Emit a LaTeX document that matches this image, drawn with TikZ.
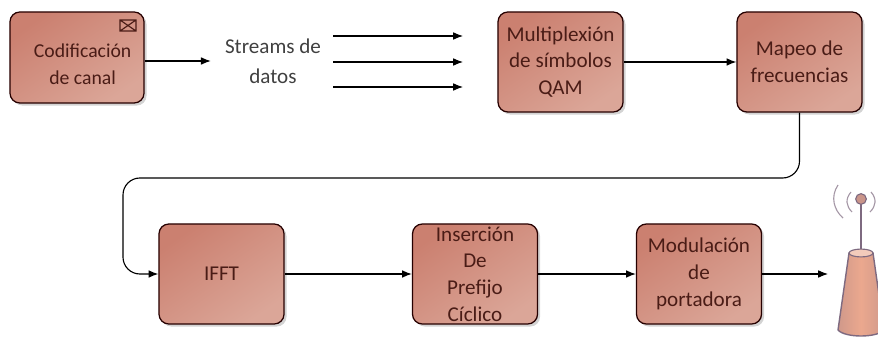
\documentclass[tikz,border=0pt]{standalone}
\usepackage{fontspec}
\setmainfont{Carlito}
\usetikzlibrary{shadows,arrows.meta}
\definecolor{bloqueA}{HTML}{CB8070}
\definecolor{bloqueB}{HTML}{DBA698}
\definecolor{textoB}{HTML}{4A1C16}
\definecolor{antenaA}{HTML}{EBA88E}
\definecolor{antenaB}{HTML}{7E6A80}
\tikzset{
    bloque/.style={draw=black!85!red, line width=0.9pt, rounded corners=7pt, left color=bloqueA, right color=bloqueB, shading angle=35, drop shadow={shadow xshift=1.8pt, shadow yshift=-1.8pt, opacity=0.35}, minimum width=3.125cm, minimum height=2.5cm, align=center, text=textoB, font=\fontsize{15}{19}\selectfont, inner sep=0pt},
    flecha/.style={-{Latex[length=7pt,width=5.5pt]}, line width=0.8pt, black},
    onda/.style={antenaB!70, line width=0.8pt}
}
\begin{document}
\begin{tikzpicture}[x=0.025cm, y=-0.025cm]
        \useasboundingbox (0,0) rectangle (878,340);

        % Bloques
        \node[bloque, minimum width=3.35cm, minimum height=2.275cm, font=\fontsize{14}{19}\selectfont] (cod) at (77,57.5) {\\[0pt]\hspace*{8pt}Codificación\\\hspace*{8pt}de canal};
        \node[font=\fontsize{15}{21}\selectfont, align=center, text=black!75, inner ysep=0pt, inner xsep=0.35cm] (str) at (273,61) {Streams de\\datos};
        \node[bloque] (mux) at (560.5,62) {Multiplexión\\de símbolos\\QAM};
        \node[bloque] (map) at (799.5,62) {Mapeo de\\frecuencias};
        \node[bloque] (ifft) at (221.5,274) {IFFT};
        \node[bloque] (ins) at (475,274) {Inserción\\De\\Prefijo\\Cíclico};
        \node[bloque] (mod) at (699,274) {Modulación\\de\\portadora};

        % Puntos libres
        \coordinate (s1a) at (333,36);
        \coordinate (s1b) at (463,36);
        \coordinate (s2a) at (333,62);
        \coordinate (s2b) at (463,62);
        \coordinate (s3a) at (333,87);
        \coordinate (s3b) at (463,87);
        \coordinate (ant) at (828,274);

        % Flechas
        \draw[flecha] (cod.east |- str) -- (str);
        \draw[flecha] (s1a) -- (s1b);
        \draw[flecha] (s2a) -- (s2b);
        \draw[flecha] (s3a) -- (s3b);
        \draw[flecha] (mux) -- (map);
        \draw[flecha, rounded corners=12pt] (map.south) -- (799.5,178) -- (123,178) -- (123,274) -- (ifft.west);
        \draw[flecha] (ifft) -- (ins);
        \draw[flecha] (ins) -- (mod);
        \draw[flecha] (mod.east) -- (ant);

        % Sobre
        \draw[textoB, line width=0.8pt] (120,20) rectangle (136,31) (120,20) -- (136,31) (136,20) -- (120,31);

        % Antena
        \draw[antenaB, line width=1.2pt] (861,252) -- (861,204);
        \draw[antenaB, line width=0.8pt, fill=antenaA!70!antenaB] (861,199) circle [radius=3.8pt];
        \draw[onda] (851,192) .. controls (845,199) and (846,206) .. (852,212);
        \draw[onda] (871,192) .. controls (877,199) and (876,206) .. (870,212);
        \draw[onda] (838,185) .. controls (830,197) and (834,210) .. (843,218);
        \draw[onda] (884,185) .. controls (892,197) and (888,210) .. (879,218);
        \draw[antenaB, line width=1pt, left color=antenaA!75!antenaB, right color=antenaA!75!antenaB, middle color=antenaA] (849,253) -- (838,330) .. controls (845,338) and (877,338) .. (884,330) -- (873,253) -- cycle;
        \draw[antenaB, line width=0.8pt, fill=antenaA!60!white] (861,253) ellipse [x radius=8.5pt, y radius=2.8pt];
\end{tikzpicture}
\end{document}
